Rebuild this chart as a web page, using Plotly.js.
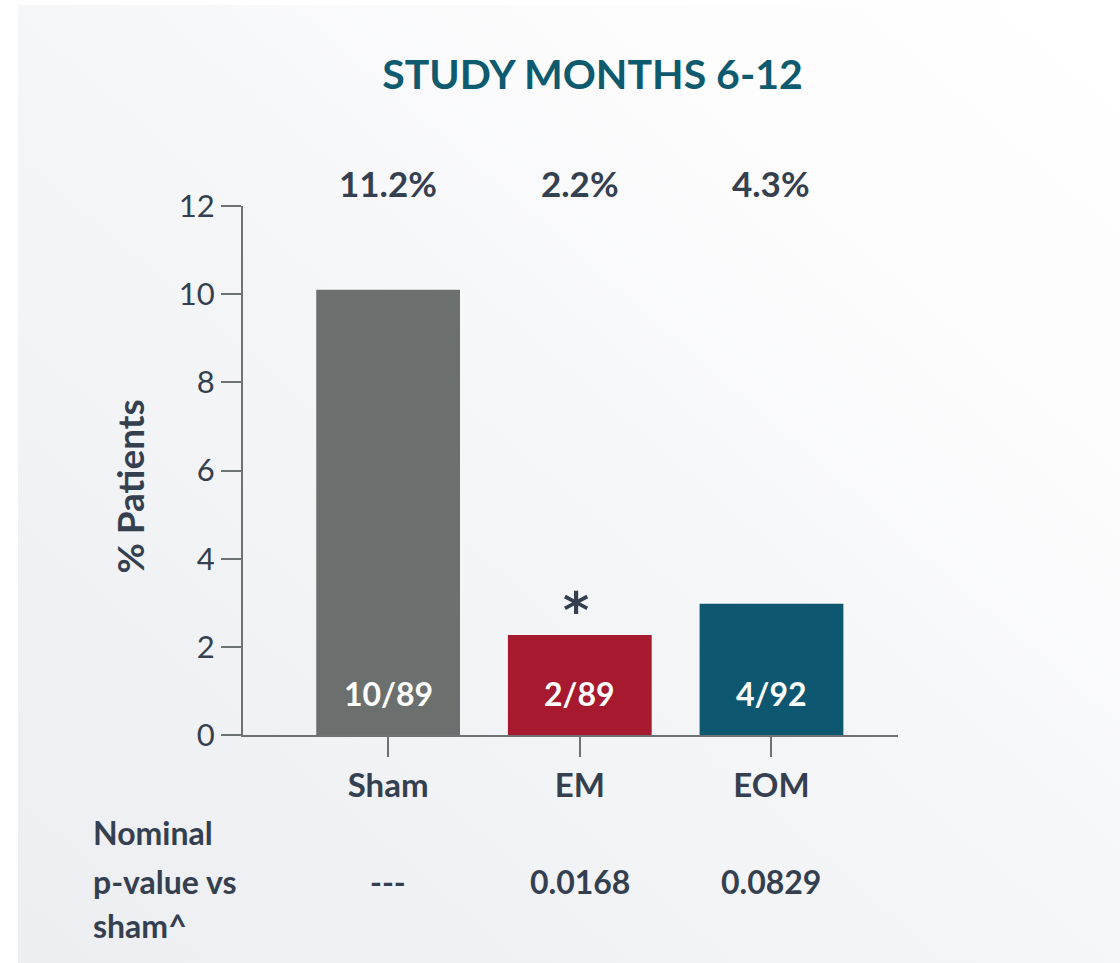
<!DOCTYPE html>
<html>
<head>
<meta charset="utf-8">
<script src="https://cdn.plot.ly/plotly-3.0.1.min.js"></script>
<style>
  html, body { margin:0; padding:0; background:#ffffff; }
  #bg { position:absolute; left:18px; top:5px; width:1102px; height:958px;
        background: linear-gradient(to top right, #eceef1 0%, #f4f5f7 45%, #fcfcfd 75%, #ffffff 100%); }
  #chart { position:absolute; left:0; top:0; width:1120px; height:963px; }
</style>
</head>
<body>
<div id="bg"></div>
<div id="chart"></div>
<script>
// Data
const categories = ['Sham', 'EM', 'EOM'];
const barValues = [10.1, 2.27, 2.98];
const pctLabels = ['11.2%', '2.2%', '4.3%'];
const countLabels = ['10/89', '2/89', '4/92'];
const extraCountLabel = '6/181';
const pValues = ['---', '0.0168', '0.0829'];
const rowLabelLines = ['Nominal', 'p-value vs', 'sham^'];
const barColors = ['#6b706f', '#a6192e', '#0d5870'];
const yTicks = [0, 2, 4, 6, 8, 10, 12];
const yTitle = '% Patients';

const textColor = '#343f50';
const FONT = 'Lato, "Open Sans", sans-serif';

const trace = {
  type: 'bar',
  x: categories,
  y: barValues,
  marker: { color: barColors, line: { width: 0 } },
  width: 0.75,
  hoverinfo: 'none'
};

const annotations = [];
categories.forEach((c, i) => {
  annotations.push({ x: i, y: 1.043, xref: 'x', yref: 'paper', yanchor: 'middle',
    text: '<b>' + pctLabels[i] + '</b>',
    showarrow: false, font: { family: FONT, size: 35, color: textColor } });
  annotations.push({ x: i, y: 0.95, xref: 'x', yref: 'y', yanchor: 'middle',
    text: '<b>' + countLabels[i] + '</b>',
    showarrow: false, font: { family: FONT, size: 32, color: '#ffffff' } });
  annotations.push({ x: i, yref: 'paper', y: -0.276, xref: 'x', yanchor: 'middle',
    text: '<b>' + pValues[i] + '</b>',
    showarrow: false, font: { family: FONT, size: 32, color: textColor } });
});
annotations.push({ x: 3, y: 0.95, xref: 'x', yref: 'y', yanchor: 'middle',
  text: '<b>' + extraCountLabel + '</b>',
  showarrow: false, font: { family: FONT, size: 32, color: '#ffffff' } });
annotations.push({ x: 1, y: barValues[1], xref: 'x', yref: 'y', yanchor: 'middle', yshift: 24, xshift: -4,
  text: '<b>*</b>', showarrow: false, font: { family: '"DejaVu Sans", sans-serif', size: 50, color: textColor } });
const rowYs = [-0.185, -0.276, -0.361];
rowLabelLines.forEach((t, k) => {
  annotations.push({ xref: 'paper', yref: 'paper', x: -0.232, y: rowYs[k], xanchor: 'left', yanchor: 'middle',
    text: '<b>' + t + '</b>', showarrow: false,
    font: { family: FONT, size: 32, color: textColor } });
});
annotations.push({ xref: 'paper', yref: 'paper', x: -0.173, y: 0.469, xanchor: 'center', yanchor: 'middle',
  textangle: -90, text: '<b>' + yTitle + '</b>', showarrow: false,
  font: { family: FONT, size: 37, color: textColor } });

const layout = {
  width: 1120, height: 963,
  margin: { l: 243, r: 222, t: 206, b: 228 },
  paper_bgcolor: 'rgba(0,0,0,0)',
  plot_bgcolor: 'rgba(0,0,0,0)',
  showlegend: false,
  title: { text: '<b>STUDY MONTHS 6-12</b>', x: 0.529, xanchor: 'center', y: 0.922, yanchor: 'middle',
    font: { family: FONT, size: 41, color: '#0e5a6e' } },
  xaxis: {
    type: 'category', range: [-0.757, 2.66],
    showline: true, linecolor: '#6d7275', linewidth: 2,
    ticks: 'outside', ticklen: 20, tickwidth: 2, tickcolor: '#6d7275',
    showgrid: false, zeroline: false,
    tickfont: { family: FONT, size: 33, color: textColor },
    tickprefix: '<b>', ticksuffix: '</b>'
  },
  yaxis: {
    range: [0, 12], tickvals: yTicks,
    showline: true, linecolor: '#6d7275', linewidth: 2,
    ticks: 'outside', ticklen: 20, tickwidth: 2, tickcolor: '#6d7275',
    showgrid: false, zeroline: false,
    tickfont: { family: FONT, size: 31, color: textColor }
  },
  annotations: annotations
};

Plotly.newPlot('chart', [trace], layout, { displayModeBar: false, staticPlot: true });
</script>
</body>
</html>
